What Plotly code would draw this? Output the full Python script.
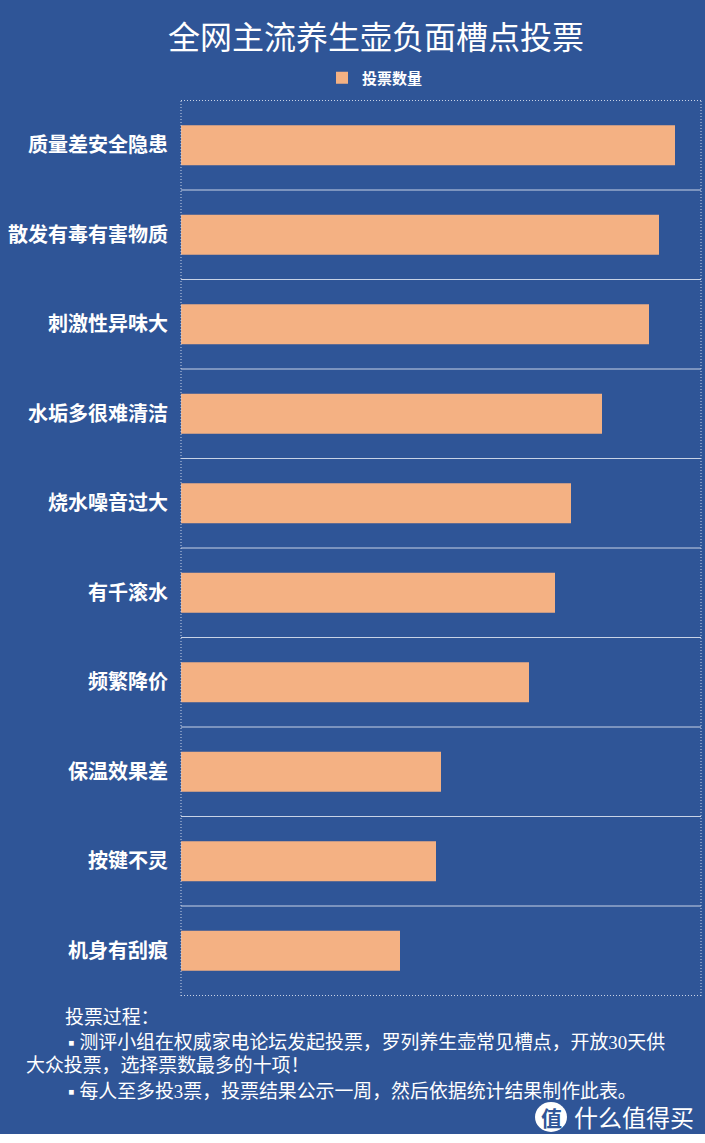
import plotly.graph_objects as go

# 读图估算的投票数量
categories = ["质量差安全隐患", "散发有毒有害物质", "刺激性异味大", "水垢多很难清洁", "烧水噪音过大",
              "有千滚水", "频繁降价", "保温效果差", "按键不灵", "机身有刮痕"]
votes = [494, 478, 468, 421, 390, 374, 348, 260, 255, 219]
W, H = 705, 1134
PLOT_L, PLOT_R, PLOT_T, PLOT_B = 181, 701, 100, 996
SERIF = "Liberation Serif, Noto Sans CJK SC"
SANS = "Noto Sans CJK SC"
BG = "#2F5597"
LINE = "#C9D3E6"
DOTS = "1px,2px"


def px_x(x):
    return (x - PLOT_L) / (PLOT_R - PLOT_L)


def px_y(y):
    return (PLOT_B - y) / (PLOT_B - PLOT_T)


fig = go.Figure(go.Bar(
    x=votes, y=categories, orientation="h", name="<b>投票数量</b>",
    marker=dict(color="#F4B183", line_width=0), width=0.446,
))

fig.update_layout(
    width=W, height=H, autosize=False,
    paper_bgcolor=BG, plot_bgcolor=BG,
    margin=dict(l=PLOT_L, r=W - PLOT_R, t=PLOT_T, b=H - PLOT_B),
    showlegend=True,
    legend=dict(orientation="h", xref="paper", yref="paper", x=px_x(322), xanchor="left",
                y=px_y(78), yanchor="middle", bgcolor="rgba(0,0,0,0)",
                itemwidth=30, font=dict(family=SANS, size=15, color="white")),
    title=dict(text="全网主流养生壶负面槽点投票", x=376 / W, xanchor="center", y=1 - 38 / H, yanchor="middle",
               font=dict(family=SERIF, size=32, color="white")),
    xaxis=dict(range=[0, 520], visible=False),
    yaxis=dict(autorange="reversed", ticks="", showgrid=False, zeroline=False, showline=False,
               ticklabelstandoff=12, tickfont=dict(family=SANS, size=20, color="white", weight="bold")),
)

# 类别分隔线
for i in range(len(categories) + 1):
    is_edge = i in (0, len(categories))
    fig.add_shape(type="line", xref="x domain", yref="y", x0=0, x1=1, y0=i - 0.5, y1=i - 0.5,
                  line=dict(color=LINE, width=1, dash=DOTS if is_edge else "solid"))
for x in (0, 1):
    fig.add_shape(type="line", xref="x domain", yref="paper", x0=x, x1=x, y0=0, y1=1,
                  line=dict(color=LINE, width=1, dash=DOTS))

note_lines = [
    (63, 1017, "投票过程："),
    (66, 1042, "▪ 测评小组在权威家电论坛发起投票，罗列养生壶常见槽点，开放30天供"),
    (24, 1065, "大众投票，选择票数最多的十项！"),
    (66, 1091, "▪ 每人至多投3票，投票结果公示一周，然后依据统计结果制作此表。"),
]
for x, y, text in note_lines:
    fig.add_annotation(xref="paper", yref="paper", xanchor="left", yanchor="middle", showarrow=False,
                       x=px_x(x), y=px_y(y), text=text, font=dict(family=SERIF, size=18.9, color="white"))

# 水印
fig.add_shape(type="circle", xref="paper", yref="paper", x0=px_x(535), x1=px_x(567),
              y0=px_y(1132), y1=px_y(1102), fillcolor="white", line_width=0)
fig.add_annotation(xref="paper", yref="paper", xanchor="center", yanchor="middle", showarrow=False,
                   x=px_x(551), y=px_y(1117), text="<b>值</b>", font=dict(family=SANS, size=21, color=BG))
fig.add_annotation(xref="paper", yref="paper", xanchor="left", yanchor="middle", showarrow=False,
                   x=px_x(572), y=px_y(1116), text="什么值得买", font=dict(family=SANS, size=24, color="white"))

fig.write_html("out.html", config=dict(displayModeBar=False), post_script="document.body.style.margin='0';")
